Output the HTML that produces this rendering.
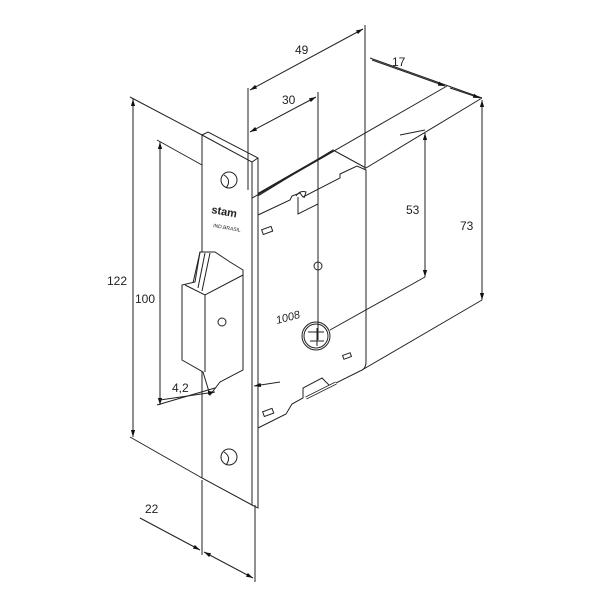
<!DOCTYPE html>
<html><head><style>
html,body{margin:0;padding:0;background:#fff;}
svg{display:block;}
text{font-family:"Liberation Sans",sans-serif;font-size:12px;fill:#222;}
</style></head><body>
<svg width="600" height="600" viewBox="0 0 600 600" xmlns="http://www.w3.org/2000/svg">
<defs>
<marker id="a" viewBox="0 0 10 10" refX="10" refY="5" markerWidth="7" markerHeight="7" orient="auto-start-reverse"><path d="M0,2 L10,5 L0,8z" fill="#111"/></marker>
</defs>
<g fill="none" stroke="#222" stroke-width="1">
<!-- case body -->
<path d="M258,215 L290,200 L292,196 L300,193 L303,197 L340,178 L340,174 L357,166 L366,170 L366,362 Q366,369 360,371 L330,386 L322,378 L303,388 L303,398 L292,404 L286,414 L258,428" fill="#fff"/>
<path d="M258,196 L333,150 L366,168 M366,168 L482,98" />
<path d="M240,205 L447,86"/>
<path d="M258,194 L333,151" stroke-width="2"/>
<path d="M298,197 L298,214 L318,204 L318,190"/>
<path d="M296,196 Q300,190 306,192 L304,198"/>
<path d="M306,398 L336,383" stroke-width="3"/>
<path d="M306,398 L336,383" stroke-width="1.5" stroke="#fff"/>
<rect x="262" y="228" width="10" height="5" transform="rotate(-20 267 230)"/>
<rect x="263" y="410" width="10" height="5" transform="rotate(-20 268 412)"/>
<rect x="343" y="354" width="8" height="4" transform="rotate(-20 347 356)"/>
<circle cx="318" cy="266" r="4"/>
<circle cx="316" cy="336" r="14"/><circle cx="316" cy="336" r="12"/>
<path d="M308,332 L324,332 M310,341 L324,341 M317,328 L317,346"/>
<!-- faceplate -->
<path d="M202,135 L252,162 L252,505 L202,478 Z" fill="#fff"/>
<path d="M202,135 L208,132 L258,158 L258,508 L252,505 M252,162 L258,158"/>
<circle cx="229" cy="180" r="8"/><circle cx="229" cy="457" r="8"/>
<path d="M224,175 Q232,180 226,188 M224,452 Q232,457 226,465"/>
<!-- latch -->
<path d="M182,285 L182,360 L203,372 L210,395 L220,382 L243,370 L243,270 L230,262 L215,252 L200,252 L195,282 Z" fill="#fff"/>
<path d="M185,285 L205,295 L243,275 M205,295 L205,372 M200,252 L193,283 M205,253 L198,288 M210,253 L202,291"/>
<circle cx="222" cy="322" r="4"/>
<!-- extension lines -->
<path d="M248,88 L248,190 M365,25 L365,170 M318,92 L318,340 M202,480 L202,555 M255,505 L255,582"/>
<path d="M130,97 L202,135 M157,140 L202,165 M157,405 L215,388 M130,437 L202,478 M370,58 L482,98 M362,370 L482,300 M330,330 L425,277 M400,135 L425,130"/>
<!-- dimension lines -->
<path d="M250,90 L363,29" marker-start="url(#a)" marker-end="url(#a)"/>
<path d="M250,132 L316,97" marker-start="url(#a)" marker-end="url(#a)"/>
<path d="M372,60 L445,86" marker-end="url(#a)"/>
<path d="M450,88 L480,98" marker-end="url(#a)"/>
<path d="M425,133 L425,277" marker-start="url(#a)" marker-end="url(#a)"/>
<path d="M482,100 L482,300" marker-start="url(#a)" marker-end="url(#a)"/>
<path d="M133,99 L133,437" marker-start="url(#a)" marker-end="url(#a)"/>
<path d="M160,142 L160,405" marker-start="url(#a)" marker-end="url(#a)"/>
<path d="M140,518 L200,550" marker-end="url(#a)"/>
<path d="M204,552 L253,578" marker-start="url(#a)" marker-end="url(#a)"/>
<path d="M160,400 L215,392" marker-end="url(#a)"/>
<path d="M280,382 L254,386" marker-end="url(#a)"/>
</g>
<text x="295" y="54">49</text>
<text x="282" y="104">30</text>
<text x="392" y="66">17</text>
<text x="406" y="214">53</text>
<text x="460" y="230">73</text>
<text x="107" y="285">122</text>
<text x="135" y="303">100</text>
<text x="172" y="392">4,2</text>
<text x="145" y="513">22</text>
<text transform="translate(277,324) rotate(-15)" style="font-style:italic;font-size:11px">1008</text>
<text transform="translate(211,213) rotate(10)" style="font-weight:bold;font-size:11px">stam</text>
<text transform="translate(213,227) rotate(10)" style="font-size:5px">IND.BRASIL</text>
</svg>
</body></html>
